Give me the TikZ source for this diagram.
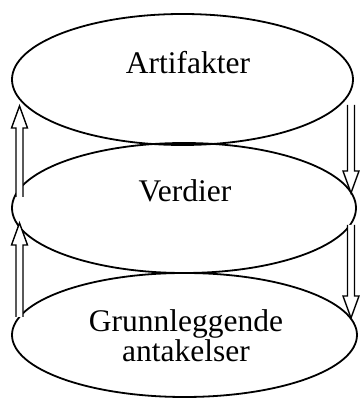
\documentclass[tikz,border=0pt]{standalone}
\usepackage{fontspec}
\setmainfont{Liberation Serif}
\usetikzlibrary{shapes.geometric,calc}
\tikzset{
  layer/.style={draw, line width=1.8pt, ellipse, inner sep=0pt},
  lbl/.style={anchor=base, inner sep=0pt, align=center, font=\fontsize{31.5}{30}\selectfont},
  arr/.style={draw, fill=white, line width=1.4pt, line join=miter}
}
\newcommand\uparr[2]{%
  \draw[arr] ($(#1)+(-3.5,0)$) -- ($(#2)+(-3.5,-22)$) -- ($(#2)+(-8,-22)$) -- (#2)
    -- ($(#2)+(8,-22)$) -- ($(#2)+(3.5,-22)$) -- ($(#1)+(3.5,0)$);}
\newcommand\downarr[2]{%
  \draw[arr] ($(#1)+(-3.5,0)$) -- ($(#2)+(-3.5,22)$) -- ($(#2)+(-8,22)$) -- (#2)
    -- ($(#2)+(8,22)$) -- ($(#2)+(3.5,22)$) -- ($(#1)+(3.5,0)$);}
\begin{document}
\begin{tikzpicture}[x=1pt,y=1pt]
\useasboundingbox (0,0) rectangle (359,399);
\node[layer, minimum width=341pt, minimum height=131pt] (top) at (182.5,319.5) {};
\node[layer, minimum width=344pt, minimum height=130pt] (mid) at (184,191) {};
\node[layer, minimum width=345pt, minimum height=124pt] (bot) at (184.5,64) {};
\node[lbl] (tA) at (188,325) {Artifakter};
\node[lbl] (tV) at (185,197) {Verdier};
\node[lbl] (tG) at (186,37) {Grunnleggende\\antakelser};
\coordinate (l1a) at (19.5,202);
\coordinate (l1b) at (19.5,293);
\coordinate (l2a) at (19.5,82);
\coordinate (l2b) at (19.5,176);
\coordinate (r1a) at (351,294);
\coordinate (r1b) at (351,206);
\coordinate (r2a) at (351,174);
\coordinate (r2b) at (351,81);
\uparr{l1a}{l1b}
\uparr{l2a}{l2b}
\downarr{r1a}{r1b}
\downarr{r2a}{r2b}
\end{tikzpicture}
\end{document}
